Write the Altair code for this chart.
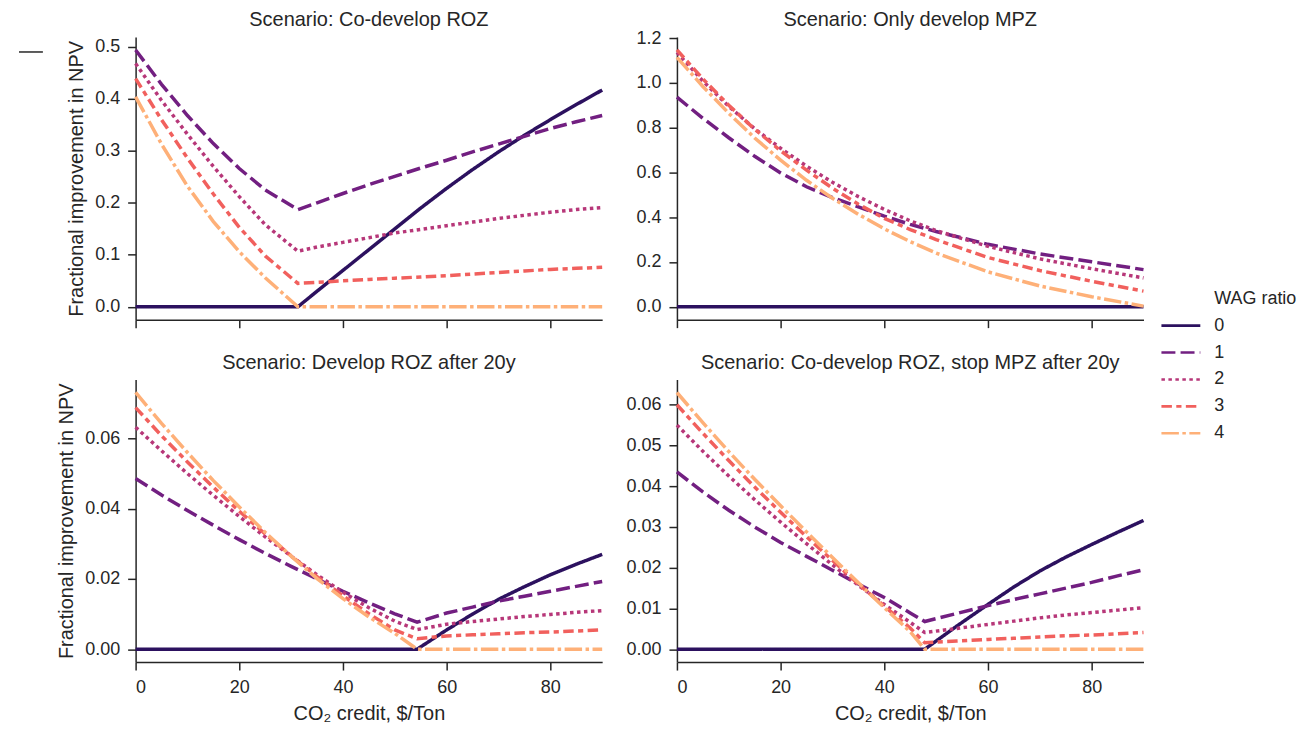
import altair as alt
import pandas as pd

FONT = "Liberation Sans"
INK = "#262626"

WAG = ["0", "1", "2", "3", "4"]
LEGEND_TITLE = ["WAG ratio"]
COLORS = ["#2c115f", "#721f81", "#b73779", "#f1605d", "#feb078"]
DASHES = [[1, 0], [14, 5.2], [3.5, 3.5], [10.5, 4.4, 5.2, 4.4], [17.5, 3.5, 3.5, 3.5]]

TITLES = [
    "Scenario: Co-develop ROZ",
    "Scenario: Only develop MPZ",
    "Scenario: Develop ROZ after 20y",
    "Scenario: Co-develop ROZ, stop MPZ after 20y",
]
X_TICKS = [0, 20, 40, 60, 80]

# Panel A: Co-develop ROZ
A_X = [0, 5, 10, 15, 20, 25, 31.3, 35, 40, 45, 50, 55, 60, 65, 70, 75, 80, 85, 90]
A_0 = [0, 0, 0, 0, 0, 0, 0, 0.030, 0.070, 0.110, 0.150, 0.190, 0.228, 0.264, 0.298, 0.330, 0.360, 0.389, 0.417]
A_1 = [0.494, 0.428, 0.368, 0.314, 0.266, 0.225, 0.187, 0.200, 0.218, 0.235, 0.251, 0.267, 0.282, 0.298, 0.313, 0.328, 0.343, 0.356, 0.368]
A_2 = [0.468, 0.397, 0.332, 0.270, 0.212, 0.158, 0.107, 0.115, 0.124, 0.133, 0.142, 0.149, 0.156, 0.163, 0.170, 0.176, 0.182, 0.187, 0.191]
A_3 = [0.439, 0.360, 0.286, 0.217, 0.153, 0.098, 0.045, 0.047, 0.050, 0.0525, 0.055, 0.0575, 0.060, 0.063, 0.066, 0.069, 0.072, 0.074, 0.076]
A_4 = [0.404, 0.313, 0.232, 0.164, 0.106, 0.056, 0.0, 0, 0, 0, 0, 0, 0, 0, 0, 0, 0, 0, 0]

# Panel B: Only develop MPZ
B_X = [0, 5, 10, 15, 20, 25, 30, 35, 40, 45, 50, 60, 70, 80, 90]
B_0 = [0] * 15
B_1 = [0.936, 0.842, 0.755, 0.672, 0.598, 0.536, 0.488, 0.446, 0.405, 0.368, 0.336, 0.279, 0.236, 0.201, 0.166]
B_2 = [1.136, 1.008, 0.895, 0.795, 0.708, 0.628, 0.556, 0.492, 0.435, 0.384, 0.340, 0.270, 0.214, 0.170, 0.129]
B_3 = [1.147, 1.018, 0.900, 0.793, 0.697, 0.610, 0.530, 0.458, 0.395, 0.345, 0.300, 0.220, 0.162, 0.114, 0.070]
B_4 = [1.114, 0.984, 0.864, 0.754, 0.655, 0.565, 0.485, 0.413, 0.348, 0.291, 0.240, 0.156, 0.093, 0.045, 0.003]

# Panel C: Develop ROZ after 20y
C_X = [0, 5, 10, 15, 20, 25, 30, 35, 40, 45, 50, 54.3, 60, 65, 70, 75, 80, 85, 90]
C_0 = [0] * 12 + [0.0055, 0.0100, 0.0142, 0.0178, 0.0212, 0.0242, 0.0270]
C_1 = [0.0486, 0.0439, 0.0395, 0.0353, 0.0312, 0.0273, 0.0236, 0.0200, 0.0165, 0.0132, 0.0101, 0.0077, 0.0103, 0.0120, 0.0137, 0.0151, 0.0165, 0.0179, 0.0193]
C_2 = [0.0632, 0.0565, 0.0500, 0.0438, 0.0378, 0.0320, 0.0265, 0.0212, 0.0162, 0.0118, 0.0080, 0.0056, 0.0071, 0.0079, 0.0086, 0.0093, 0.0099, 0.0105, 0.0110]
C_3 = [0.0688, 0.0608, 0.0533, 0.0461, 0.0393, 0.0328, 0.0266, 0.0207, 0.0152, 0.0101, 0.0055, 0.0030, 0.0038, 0.0041, 0.0044, 0.0047, 0.0049, 0.0052, 0.0055]
C_4 = [0.0731, 0.0643, 0.0560, 0.0480, 0.0405, 0.0333, 0.0265, 0.0201, 0.0144, 0.0092, 0.0045, 0.0, 0, 0, 0, 0, 0, 0, 0]

# Panel D: Co-develop ROZ, stop MPZ after 20y
D_X = [0, 5, 10, 15, 20, 25, 30, 35, 40, 45, 47.8, 54, 60, 65, 70, 75, 80, 85, 90]
D_0 = [0] * 11 + [0.0057, 0.0110, 0.0153, 0.0192, 0.0226, 0.0257, 0.0287, 0.0316]
D_1 = [0.0435, 0.0386, 0.0341, 0.0300, 0.0262, 0.0228, 0.0194, 0.0160, 0.0127, 0.0089, 0.0068, 0.0088, 0.0107, 0.0122, 0.0136, 0.0150, 0.0164, 0.0180, 0.0195]
D_2 = [0.0550, 0.0486, 0.0425, 0.0367, 0.0312, 0.0259, 0.0207, 0.0157, 0.0110, 0.0066, 0.0041, 0.0051, 0.0061, 0.0069, 0.0077, 0.0084, 0.0090, 0.0096, 0.0102]
D_3 = [0.0600, 0.0530, 0.0463, 0.0398, 0.0336, 0.0276, 0.0218, 0.0160, 0.0106, 0.0052, 0.0016, 0.0020, 0.0024, 0.0027, 0.0030, 0.0033, 0.0035, 0.0038, 0.0041]
D_4 = [0.0630, 0.0556, 0.0485, 0.0417, 0.0352, 0.0288, 0.0225, 0.0163, 0.0102, 0.0043, 0.0, 0, 0, 0, 0, 0, 0, 0, 0]

Y_DOMAINS = [[-0.0247, 0.519], [-0.0574, 1.2047], [-0.00366, 0.0768], [-0.00315, 0.0662]]
Y_TICKS = [
    [0, 0.1, 0.2, 0.3, 0.4, 0.5],
    [0, 0.2, 0.4, 0.6, 0.8, 1.0, 1.2],
    [0, 0.02, 0.04, 0.06],
    [0, 0.01, 0.02, 0.03, 0.04, 0.05, 0.06],
]
Y_FORMATS = [".1f", ".1f", ".2f", ".2f"]


def frame(xs, series):
    rows = []
    for k, vals in enumerate(series):
        for x, v in zip(xs, vals):
            rows.append({"x": x, "v": v, "wag": WAG[k]})
    return pd.DataFrame(rows)


FRAMES = [
    frame(A_X, [A_0, A_1, A_2, A_3, A_4]),
    frame(B_X, [B_0, B_1, B_2, B_3, B_4]),
    frame(C_X, [C_0, C_1, C_2, C_3, C_4]),
    frame(D_X, [D_0, D_1, D_2, D_3, D_4]),
]

W, H = 468, 283.5

legend = alt.Legend(
    orient="none",
    legendX=1034,
    legendY=275,
    title=None,
    labelFont=FONT,
    labelFontSize=18,
    labelColor=INK,
    labelOffset=19,
    symbolType="M-1.5,0L1.5,0",
    symbolSize=676,
    symbolStrokeWidth=2.6,
    rowPadding=3,
    padding=0,
)


def panel(i):
    bottom = i >= 2
    left = i % 2 == 0
    xaxis = alt.Axis(values=X_TICKS, labels=bottom, format="d",
                     title="CO₂ credit, $/Ton" if bottom else None)
    yaxis = alt.Axis(values=Y_TICKS[i], format=Y_FORMATS[i],
                     title="Fractional improvement in NPV" if left else None)
    lines = alt.Chart(FRAMES[i]).mark_line(strokeWidth=3.5).encode(
        x=alt.X("x:Q", scale=alt.Scale(domain=[0, 90], nice=False, zero=False), axis=xaxis),
        y=alt.Y("v:Q", scale=alt.Scale(domain=Y_DOMAINS[i], nice=False, zero=False), axis=yaxis),
        color=alt.Color("wag:N", scale=alt.Scale(domain=WAG, range=COLORS), legend=legend),
        strokeDash=alt.StrokeDash("wag:N", scale=alt.Scale(domain=WAG, range=DASHES), legend=legend),
    )
    title = alt.TitleParams(text=TITLES[i], font=FONT, fontSize=20, fontWeight="normal",
                            color=INK, offset=7, anchor="middle", frame="group",
                            dy=8 if i == 1 else 0)
    if i == 0:
        mark = alt.Chart(pd.DataFrame({"k": [0]})).mark_rule(color=INK, strokeWidth=1.5).encode(
            x=alt.value(-117), x2=alt.value(-93), y=alt.value(15)
        )
        return alt.layer(lines, mark).properties(width=W, height=H, title=title)
    if i == 1:
        head = alt.Chart(pd.DataFrame({"t": LEGEND_TITLE})).mark_text(
            align="left", baseline="middle", font=FONT, fontSize=18, color=INK
        ).encode(x=alt.value(539), y=alt.value(263.3), text="t:N")
        return alt.layer(lines, head).properties(width=W, height=H, title=title)
    return lines.properties(width=W, height=H, title=title)


chart = alt.concat(
    panel(0), panel(1), panel(2), panel(3),
    columns=2, spacing={"row": 59.5, "column": 75}, bounds="flush",
).resolve_scale(
    color="shared", strokeDash="shared"
).properties(
    padding={"left": 10, "top": 1, "right": 5, "bottom": 5},
    background="white",
).configure_view(
    strokeWidth=0
).configure_axis(
    grid=False,
    domainColor=INK,
    domainWidth=1.5,
    tickColor=INK,
    tickWidth=1.5,
    tickSize=8,
    labelFont=FONT,
    labelFontSize=18,
    labelColor=INK,
    labelPadding=8,
    titleFont=FONT,
    titleFontSize=20,
    titleFontWeight="normal",
    titleColor=INK,
    titlePadding=8,
)

chart.save("out.html", embed_options={"renderer": "svg", "actions": False})
